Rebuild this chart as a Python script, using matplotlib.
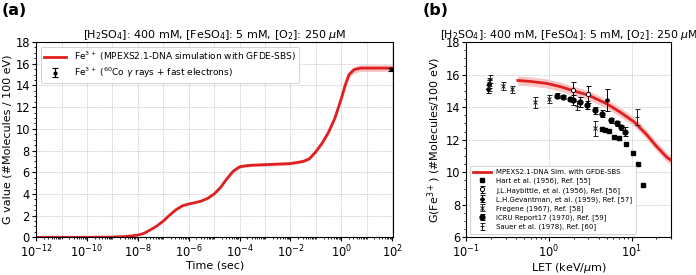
import numpy as np
import matplotlib
matplotlib.use('Agg')
import matplotlib.pyplot as plt
from matplotlib.ticker import LogLocator, NullFormatter, AutoMinorLocator, FixedLocator, LogFormatterMathtext

# ---------------- Panel (a) data ----------------
time_s = [1e-12, 1e-11, 1e-10, 1e-9, 3.16e-9, 1e-8, 1.78e-8, 3.16e-8, 5.6e-8, 1e-7, 1.78e-7,
          3.16e-7, 5.6e-7, 1e-6, 1.78e-6, 3.16e-6, 5.6e-6, 1e-5, 1.78e-5, 3.16e-5, 5.6e-5,
          1e-4, 1.78e-4, 3.16e-4, 1e-3, 1e-2, 3.16e-2, 5.6e-2, 1e-1, 1.78e-1, 3.16e-1,
          5.6e-1, 1.0, 1.41, 2.0, 3.16, 5.6, 10, 100]
g_sim = [0, 0, 0, 0.02, 0.07, 0.2, 0.38, 0.7, 1.05, 1.5, 2.05,
         2.55, 2.9, 3.07, 3.2, 3.35, 3.6, 4.0, 4.6, 5.4, 6.1,
         6.5, 6.6, 6.65, 6.7, 6.8, 7.0, 7.25, 7.9, 8.7, 9.7,
         11.0, 12.8, 14.0, 15.0, 15.45, 15.6, 15.6, 15.6]
g_band_frac = 0.02
exp_time = [90.0]
exp_g = [15.5]
exp_err = [0.15]

# ---------------- Panel (b) data ----------------
sim_let = [0.42, 0.6, 0.94, 1.4, 2.0, 3.0, 5.05, 7.5, 10.7, 15.0, 20.0, 27.0, 30.0]
sim_g = [15.64, 15.58, 15.46, 15.25, 15.0, 14.74, 14.2, 13.65, 13.1, 12.35, 11.6, 10.9, 10.75]
sim_band = 0.28

hart_let = [4.4, 4.8, 5.3, 6.1, 7.0, 8.6, 10.5, 11.9, 13.9]
hart_g = [12.65, 12.62, 12.55, 12.15, 12.1, 11.75, 11.2, 10.5, 9.22]

hay_let = [1.98, 3.0]
hay_g = [15.03, 14.78]
hay_err = [0.5, 0.5]

gev_let = [0.185, 0.19, 5.1]
gev_g = [15.1, 15.4, 14.44]
gev_err = [0.25, 0.25, 0.7]

freg_let = [0.19, 0.28, 0.36, 0.67, 1.0, 3.64]
freg_g = [15.25, 15.3, 15.1, 14.3, 14.5, 12.7]
freg_err = [0.25, 0.25, 0.22, 0.35, 0.25, 0.45]

icru_let = [1.24, 1.46, 1.8, 1.98, 2.35, 2.88, 3.64, 4.4, 5.7, 6.6, 7.55, 8.45]
icru_g = [14.7, 14.64, 14.5, 14.44, 14.33, 14.14, 13.8, 13.6, 13.2, 13.0, 12.75, 12.5]
icru_err = [0.15, 0.12, 0.15, 0.3, 0.3, 0.25, 0.2, 0.2, 0.15, 0.15, 0.15, 0.3]

sauer_let = [0.19, 0.195, 2.2, 11.5]
sauer_g = [15.55, 15.75, 14.1, 13.38]
sauer_err = [0.25, 0.25, 0.25, 0.5]

title_txt = r'[H$_2$SO$_4$]: 400 mM, [FeSO$_4$]: 5 mM, [O$_2$]: 250 $\mu$M'

RED = '#e02020'
PINK = '#f08080'

fig = plt.figure(figsize=(6.96, 2.75), dpi=100)
axa = fig.add_axes([0.052, 0.137, 0.513, 0.71])
axb = fig.add_axes([0.670, 0.137, 0.294, 0.71])

# ---------- (a) ----------
t = np.array(time_s)
g = np.array(g_sim)
axa.fill_between(t, g * (1 - g_band_frac), g * (1 + g_band_frac), color=PINK, alpha=0.45, lw=0)
axa.plot(t, g, color=RED, lw=2.0,
         label=r'Fe$^{3+}$ (MPEXS2.1-DNA simulation with GFDE-SBS)')
axa.errorbar(exp_time, exp_g, yerr=exp_err, fmt='o', color='black', ms=2, capsize=2,
             elinewidth=0.8, capthick=0.8,
             label=r'Fe$^{3+}$ ($^{60}$Co $\gamma$ rays + fast electrons)')
axa.set_xscale('log')
axa.set_xlim(1e-12, 1.1e2)
axa.set_ylim(0, 18)
axa.xaxis.set_major_locator(FixedLocator([10.0 ** e for e in range(-12, 3, 2)]))
axa.xaxis.set_major_formatter(LogFormatterMathtext())
axa.xaxis.set_minor_locator(LogLocator(base=10, subs=np.arange(1, 10), numticks=40))
axa.xaxis.set_minor_formatter(NullFormatter())
axa.set_yticks(np.arange(0, 19, 2))
axa.yaxis.set_minor_locator(AutoMinorLocator(4))
for e in range(-11, 3):
    axa.axvline(10.0 ** e, color='#d0d0d0', lw=0.6, ls=(0, (2, 1)), zorder=0)
axa.grid(True, which='major', axis='y', color='#d0d0d0', lw=0.6, ls=(0, (2, 1)))
axa.set_xlabel('Time (sec)', fontsize=8, labelpad=0.3)
axa.set_ylabel('G value (#Molecules / 100 eV)', fontsize=8, labelpad=2)
axa.set_title(title_txt, fontsize=8, pad=3)
axa.tick_params(labelsize=8.3, length=3, pad=1.5)
axa.tick_params(which='minor', length=1.5)
leg = axa.legend(loc='upper left', fontsize=6.5, framealpha=1, edgecolor='#cccccc',
                 borderpad=0.35, handlelength=2.5, labelspacing=0.25)
leg.get_frame().set_linewidth(0.6)

# ---------- (b) ----------
sl = np.array(sim_let)
sg = np.array(sim_g)
axb.fill_between(sl, sg - sim_band, sg + sim_band, color=PINK, alpha=0.45, lw=0)
axb.plot(sl, sg, color=RED, lw=2.0, label='MPEXS2.1-DNA Sim. with GFDE-SBS')
axb.plot(hart_let, hart_g, 's', color='black', ms=3, label='Hart et al. (1956), Ref. [55]')
ekw = dict(elinewidth=0.7, capthick=0.7, capsize=1.8)
axb.errorbar(hay_let, hay_g, yerr=hay_err, fmt='o', mfc='white', mec='black', ecolor='black',
             ms=3, mew=0.7, label='J.L.Haybittle, et al. (1956), Ref. [56]', **ekw)
axb.errorbar(gev_let, gev_g, yerr=gev_err, fmt='D', color='black', ms=2,
             label='L.H.Gevantman, et al. (1959), Ref. [57]', **ekw)
axb.errorbar(freg_let, freg_g, yerr=freg_err, fmt='x', color='#222222', ms=2.5, mew=0.7,
             label='Fregene (1967), Ref. [58]', **ekw)
axb.errorbar(icru_let, icru_g, yerr=icru_err, fmt='o', color='black', ms=3.5,
             label='ICRU Report17 (1970), Ref. [59]', **ekw)
axb.errorbar(sauer_let, sauer_g, yerr=sauer_err, fmt='+', color='#222222', ms=2.5, mew=0.7,
             label='Sauer et al. (1978), Ref. [60]', **ekw)
axb.set_xscale('log')
axb.set_xlim(0.1, 30)
axb.set_ylim(6, 18)
axb.set_yticks(np.arange(6, 19, 2))
axb.yaxis.set_minor_locator(AutoMinorLocator(4))
axb.grid(True, which='major', color='#d0d0d0', lw=0.6, ls=(0, (2, 1)))
axb.set_xlabel(r'LET (keV/$\mu$m)', fontsize=8, labelpad=0.3)
axb.set_ylabel(r'G(Fe$^{3+}$) (#Molecules/100 eV)', fontsize=8, labelpad=2)
axb.set_title(title_txt, fontsize=7.8, pad=3)
axb.tick_params(labelsize=8.3, length=3, pad=1.5)
axb.tick_params(which='minor', length=1.5)
legb = axb.legend(loc='lower left', fontsize=5, framealpha=1, edgecolor='#cccccc',
                  borderpad=0.5, handlelength=2.5, labelspacing=0.35)
legb.get_frame().set_linewidth(0.6)

fig.text(0.003, 0.99, '(a)', fontsize=11.5, fontweight='bold', va='top', ha='left')
fig.text(0.607, 0.99, '(b)', fontsize=11.5, fontweight='bold', va='top', ha='left')

fig.savefig('out.png', dpi=100)
